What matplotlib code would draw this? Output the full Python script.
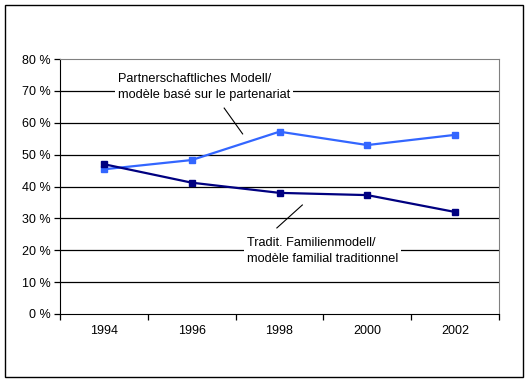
import numpy as np
import matplotlib.pyplot as plt

# Reading values off the reference (percent)
years = ['1994', '1996', '1998', '2000', '2002']
partner = [45.4, 48.3, 57.2, 53.0, 56.2]
tradit = [47.0, 41.2, 38.0, 37.3, 32.0]
yticks = [0, 10, 20, 30, 40, 50, 60, 70, 80]

plt.rcParams['font.family'] = ['Liberation Sans', 'DejaVu Sans']

fig = plt.figure(figsize=(5.30, 3.83), dpi=100)
# outer frame
fig.add_artist(plt.Rectangle((5 / 530, 6 / 383), 518 / 530, 372 / 383,
                             transform=fig.transFigure, fill=False,
                             edgecolor='black', linewidth=1.0))

ax = fig.add_axes([60 / 530, 69 / 383, 439 / 530, 255 / 383])
x = np.arange(len(years))

for y in yticks[1:-1]:
    ax.axhline(y, color='black', linewidth=0.9, zorder=1)

ax.plot(x, partner, color='#3366FF', linewidth=1.6, marker='s',
        markersize=4.5, zorder=3)
ax.plot(x, tradit, color='#000080', linewidth=1.6, marker='s',
        markersize=4.5, zorder=3)

ax.set_xlim(-0.5, len(years) - 0.5)
ax.set_ylim(0, 80)
ax.set_yticks(yticks)
ax.set_yticklabels([f'{v} %' for v in yticks])
ax.set_xticks(x)
ax.set_xticklabels(years)
ax.set_xticks(np.arange(-0.5, len(years)), minor=True)
ax.tick_params(axis='x', which='major', length=0, pad=8, labelsize=9)
ax.tick_params(axis='x', which='minor', length=4, width=0.9, direction='out')
ax.tick_params(axis='y', length=4, width=0.9, direction='out', pad=3, labelsize=9)

for s in ['top', 'right']:
    ax.spines[s].set_color('#808080')
for s in ['left', 'bottom']:
    ax.spines[s].set_color('black')

# labels with leader lines
ax.text(0.16, 71.2, 'Partnerschaftliches Modell/\nmodèle basé sur le partenariat',
        fontsize=9.2, va='center', ha='left', linespacing=1.45, zorder=2,
        bbox=dict(facecolor='white', edgecolor='none', pad=2))
ax.plot([1.37, 1.58], [64.6, 56.5], color='black', linewidth=0.8, zorder=2)

ax.text(1.63, 19.8, 'Tradit. Familienmodell/\nmodèle familial traditionnel',
        fontsize=9.2, va='center', ha='left', linespacing=1.45, zorder=2,
        bbox=dict(facecolor='white', edgecolor='none', pad=2))
ax.plot([1.97, 2.26], [27.0, 34.2], color='black', linewidth=0.8, zorder=2)

fig.savefig('out.png', dpi=100)
